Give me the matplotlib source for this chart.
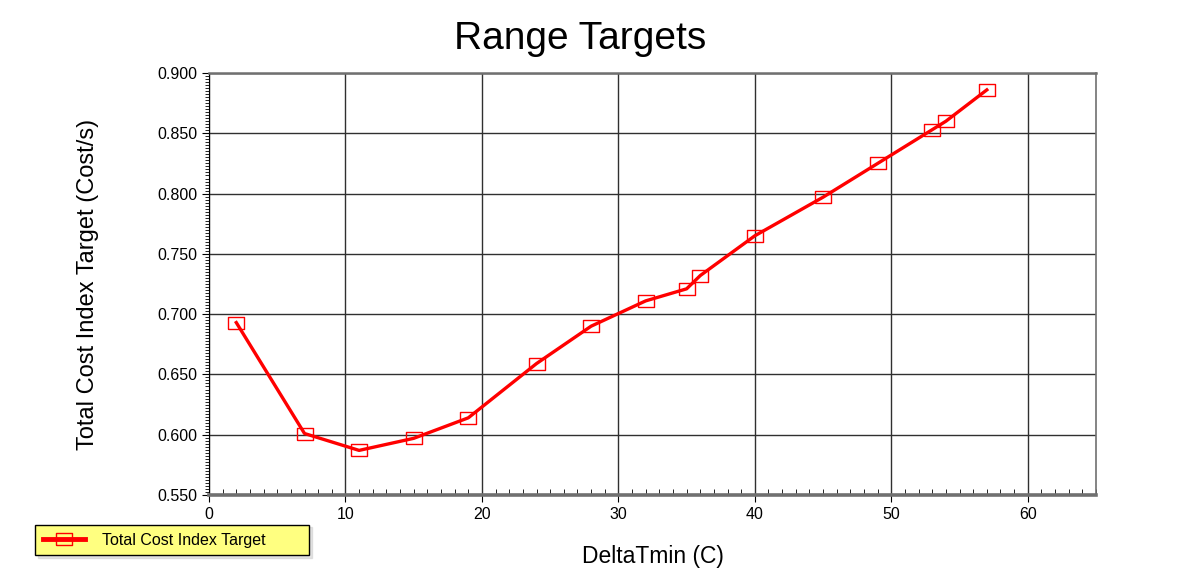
import matplotlib
matplotlib.use('Agg')
import matplotlib.pyplot as plt
from matplotlib.ticker import MultipleLocator
import numpy as np

plt.rcParams['font.family'] = ['Liberation Sans', 'DejaVu Sans']

# values
delta_tmin = [2, 7, 11, 15, 19, 24, 28, 32, 35, 36, 40, 45, 49, 53, 54, 57]
cost_index = [0.693, 0.601, 0.587, 0.597, 0.614, 0.659, 0.690, 0.711,
              0.721, 0.732, 0.765, 0.797, 0.825, 0.853, 0.860, 0.886]
series_name = 'Total Cost Index Target'
x_ticks = [0, 10, 20, 30, 40, 50, 60]
y_ticks = [0.550, 0.600, 0.650, 0.700, 0.750, 0.800, 0.850, 0.900]

# wide rectangle marker like the original
rect = [(-1.3, -1), (1.3, -1), (1.3, 1), (-1.3, 1), (-1.3, -1)]

fig = plt.figure(figsize=(11.89, 5.8), dpi=100)
ax = fig.add_axes([209/1189, 1-495/580, (1096-209)/1189, (495-73)/580])

ax.plot(delta_tmin, cost_index, color='red', lw=2.4, marker=rect, ms=12,
        mfc='none', mec='red', mew=1.0, label=series_name, zorder=3)

ax.set_xlim(0, 65)
ax.set_ylim(0.55, 0.90)
ax.set_xticks(x_ticks)
ax.set_yticks(y_ticks)
ax.set_yticklabels(['%.3f' % v for v in y_ticks])
ax.xaxis.set_minor_locator(MultipleLocator(1))
ax.yaxis.set_minor_locator(MultipleLocator(0.0025))
ax.tick_params(axis='both', which='major', labelsize=11.5, direction='out', length=5, color='black')
ax.tick_params(axis='both', which='minor', direction='out', length=3, color='black')
ax.tick_params(axis='x', which='minor', direction='in', length=4)

ax.grid(True, which='major', color='#303030', lw=1.0)
for side in ['top', 'bottom', 'right']:
    ax.spines[side].set_color('#707070')
ax.spines['top'].set_linewidth(1.8)
ax.spines['bottom'].set_linewidth(2.6)
ax.spines['right'].set_linewidth(1.2)
ax.spines['left'].set_color('black')

fig.text(580/1189, 1-39/580, 'Range Targets', fontsize=28, ha='center', va='center')
fig.text(88/1189, 1-284/580, 'Total Cost Index Target (Cost/s)', fontsize=17,
         rotation=90, ha='center', va='center')
fig.text(653/1189, 1-557/580, 'DeltaTmin (C)', fontsize=16.5, ha='center', va='center')

leg = fig.legend(loc='center left', bbox_to_anchor=(35/1189, 1-556/580, 274/1189, 32/580),
                 mode='expand', borderaxespad=0, fancybox=False, shadow={'color': '#c8c8c8', 'ox': 2, 'oy': -2},
                 fontsize=11.5, handlelength=2.6, handletextpad=1.1, borderpad=0.5, framealpha=1)
leg.get_frame().set_facecolor('#FFFF80')
leg.get_frame().set_edgecolor('black')
leg.get_frame().set_linewidth(1.0)
leg.get_lines()[0].set_linewidth(3.5)

fig.savefig('out.png', dpi=100)
